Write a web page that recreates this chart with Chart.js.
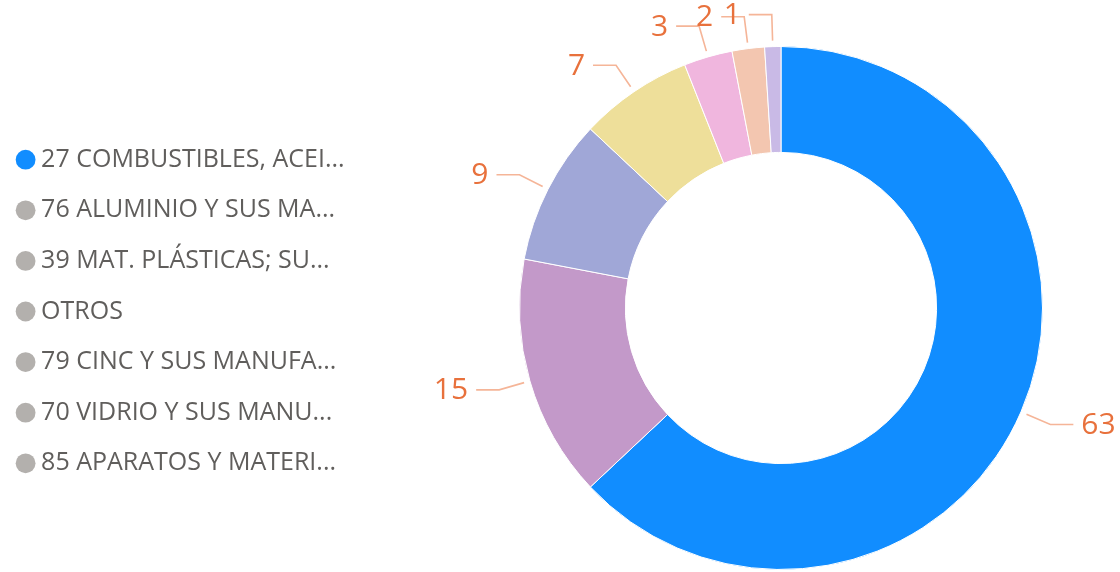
<!DOCTYPE html>
<html>
<head>
<meta charset="utf-8">
<script src="https://cdn.jsdelivr.net/npm/chart.js@4.4.1/dist/chart.umd.min.js"></script>
<style>
  html, body { margin: 0; padding: 0; background: #ffffff; }
  #wrap { width: 1120px; height: 572px; }
</style>
</head>
<body>
<div id="wrap"><canvas id="chartCanvas" width="1120" height="572"></canvas></div>
<script>
(function() {

  var categories = [
    '27 COMBUSTIBLES, ACEI...',
    '76 ALUMINIO Y SUS MA...',
    '39 MAT. PLÁSTICAS; SU...',
    'OTROS',
    '79 CINC Y SUS MANUFA...',
    '70 VIDRIO Y SUS MANU...',
    '85 APARATOS Y MATERI...'
  ];
  var shares = [63, 15, 9, 7, 3, 2, 1];

  var sliceColors = ['#118DFF', '#C399C9', '#A0A7D7', '#EEDF9A', '#F0B6DE', '#F3C6B0', '#C9BAE6'];
  var legendDotColors = ['#118DFF', '#B3B0AD', '#B3B0AD', '#B3B0AD', '#B3B0AD', '#B3B0AD', '#B3B0AD'];

  var FONT = '"Segoe UI", "Open Sans", "Noto Sans", sans-serif';
  var LEGEND_W = 445;

  // keep the legend wide so the ring sits on the right, nudge items down a bit
  var legendWidthPlugin = {
    id: 'legendWidth',
    beforeLayout: function(chart) {
      var lg = chart.legend;
      if (!lg || lg._wideFit) return;
      var fitFn = lg.fit;
      lg.fit = function() {
        fitFn.call(this);
        this.width = LEGEND_W;
        if (this.columnSizes && this.columnSizes[0]) this.columnSizes[0].height -= 7;
      };
      lg._wideFit = true;
    }
  };

  // outside labels with elbow leader lines
  var leaderLabelPlugin = {
    id: 'leaderLabels',
    afterDraw: function(chart) {
      var ctx = chart.ctx;
      var meta = chart.getDatasetMeta(0);
      ctx.save();
      ctx.font = '30px ' + FONT;
      ctx.textBaseline = 'middle';
      meta.data.forEach(function(arc, i) {
        var p = arc.getProps(['x', 'y', 'startAngle', 'endAngle', 'outerRadius'], true);
        var mid = (p.startAngle + p.endAngle) / 2;
        var cx = Math.cos(mid), cy = Math.sin(mid);
        var x0 = p.x + cx * (p.outerRadius + 6), y0 = p.y + cy * (p.outerRadius + 6);
        var x1 = p.x + cx * (p.outerRadius + 32), y1 = p.y + cy * (p.outerRadius + 32);
        var dir = cx >= 0 ? 1 : -1;
        var x2 = x1 + dir * 23;
        ctx.strokeStyle = '#F5B598';
        ctx.lineWidth = 1.6;
        ctx.beginPath();
        ctx.moveTo(x0, y0);
        ctx.lineTo(x1, y1);
        ctx.lineTo(x2, y1);
        ctx.stroke();
        ctx.fillStyle = '#E8713C';
        ctx.textAlign = dir > 0 ? 'left' : 'right';
        ctx.fillText(String(shares[i]), x2 + dir * 8, y1 + 1);
      });
      ctx.restore();
    }
  };

  var chartInstance = new Chart(document.getElementById('chartCanvas').getContext('2d'), {
    type: 'doughnut',
    data: {
      labels: categories,
      datasets: [{
        data: shares,
        backgroundColor: sliceColors,
        borderColor: '#ffffff',
        borderWidth: 1,
        hoverOffset: 0
      }]
    },
    options: {
      responsive: false,
      animation: false,
      cutout: '59.5%',
      layout: { padding: { left: -3, top: 46, right: 0, bottom: 2 } },
      plugins: {
        tooltip: { enabled: false },
        legend: {
          position: 'left',
          align: 'center',
          labels: {
            usePointStyle: true,
            pointStyle: 'circle',
            boxWidth: 6,
            boxHeight: 14,
            padding: 25.6,
            color: '#605E5C',
            font: { family: FONT, size: 25 },
            generateLabels: function(chart) {
              return categories.map(function(name, i) {
                return {
                  text: name,
                  fillStyle: legendDotColors[i],
                  strokeStyle: legendDotColors[i],
                  fontColor: '#605E5C',
                  lineWidth: 0,
                  pointStyle: 'circle',
                  hidden: false,
                  index: i
                };
              });
            }
          }
        }
      }
    },
    plugins: [legendWidthPlugin, leaderLabelPlugin]
  });

})();
</script>
</body>
</html>
